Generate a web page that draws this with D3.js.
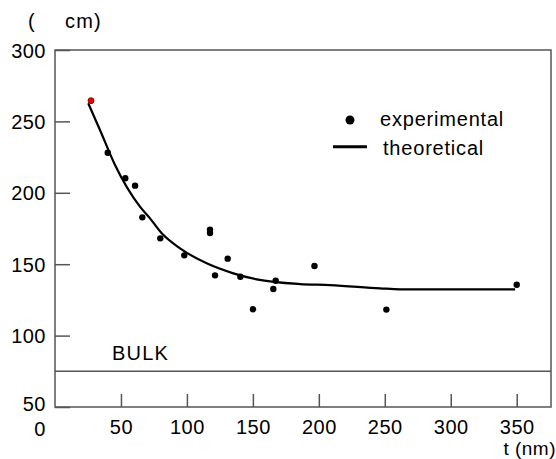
<!DOCTYPE html>
<meta charset="utf-8">
<style>
    body { margin: 0; background: #fff; }
    svg text {
        font-family: "Liberation Sans", Arial, sans-serif;
        font-size: 20px;
        letter-spacing: 0.5px;
        fill: #000;
    }
    .frame { fill: none; stroke: #555; stroke-width: 1.5px; }
    .axis path { display: none; }
    .axis line { stroke: #555; stroke-width: 1.5px; }
    .curve { fill: none; stroke: #000; stroke-width: 2.2px; }
</style>
<svg width="556" height="459"></svg>
<script src="https://d3js.org/d3.v7.min.js"></script>
<script>

    // measured points (thickness t in nm, value in cm units)
    var expT = [40, 53.3, 60.7, 66.2, 79.8, 98, 117.5, 117.5, 121.3, 130.9, 140.5, 150.1, 165.5, 167.3, 196.7, 251.2, 350];
    var expV = [228, 210.2, 205, 182.8, 168.1, 156.2, 174.2, 171.8, 142.2, 153.9, 141.2, 118.4, 132.6, 138.4, 148.7, 118.2, 135.6];
    // first point is drawn in red
    var redT = [27.3];
    var redV = [264.5];

    // theoretical curve
    var theoT = [25.2, 34.1, 45.5, 64.4, 72, 80.9, 94.8, 115, 135.2, 152.9, 185.7, 208.5, 246.4, 261.6, 348.8];
    var theoV = [262.7, 244, 219.5, 190.3, 182.1, 171.6, 161.1, 150.6, 143.6, 139.4, 136.1, 135.4, 133.1, 132.4, 132.4];

    var bulkValue = 75;

    var xTicks = [50, 100, 150, 200, 250, 300, 350];
    var yTicks = [50, 100, 150, 200, 250, 300];

    var svg = d3.select("svg");

    var x = d3.scaleLinear().domain([0, 376]).range([55, 551]),
        y = d3.scaleLinear().domain([50, 300]).range([407, 50]);

    // frame around the plot
    svg.append("rect")
        .attr("class", "frame")
        .attr("x", x(0))
        .attr("y", y(300))
        .attr("width", x(376) - x(0))
        .attr("height", y(50) - y(300));

    // axes with inward ticks
    svg.append("g")
        .attr("class", "axis")
        .attr("transform", "translate(" + x(0) + ",0)")
        .call(d3.axisLeft(y).tickValues(yTicks).tickSize(-15).tickPadding(9))
        .selectAll("text")
        .attr("dy", function(d) { return d === 50 ? "0.15em" : "0.35em"; });

    svg.append("g")
        .attr("class", "axis")
        .attr("transform", "translate(0," + y(50) + ")")
        .call(d3.axisBottom(x).tickValues(xTicks).tickSize(-13).tickPadding(13));

    svg.selectAll(".axis").attr("font-family", null).attr("font-size", null);

    // the "0" of the x axis sits left of the corner
    svg.append("text")
        .attr("x", x(0) - 15)
        .attr("y", 436)
        .attr("text-anchor", "middle")
        .text("0");

    // bulk level
    svg.append("line")
        .attr("x1", x(0)).attr("x2", x(376))
        .attr("y1", y(bulkValue)).attr("y2", y(bulkValue))
        .attr("stroke", "#555")
        .attr("stroke-width", 1.5);

    svg.append("text")
        .attr("x", 112)
        .attr("y", 360)
        .style("letter-spacing", "1.2px")
        .text("BULK");

    // theoretical line
    var line = d3.line()
        .curve(d3.curveMonotoneX)
        .x(function(d, i) { return x(theoT[i]); })
        .y(function(d, i) { return y(theoV[i]); });

    svg.append("path")
        .attr("class", "curve")
        .attr("d", line(theoT));

    // experimental points
    svg.selectAll(".dot")
        .data(expT)
        .enter().append("circle")
        .attr("class", "dot")
        .attr("cx", function(d) { return x(d); })
        .attr("cy", function(d, i) { return y(expV[i]); })
        .attr("r", 3.2)
        .attr("fill", "#000");

    svg.selectAll(".red")
        .data(redT)
        .enter().append("circle")
        .attr("class", "red")
        .attr("cx", function(d) { return x(d); })
        .attr("cy", function(d, i) { return y(redV[i]); })
        .attr("r", 3)
        .attr("fill", "#ee0000")
        .attr("stroke", "#600")
        .attr("stroke-width", 0.8);

    // legend
    svg.append("circle")
        .attr("cx", 350).attr("cy", 120)
        .attr("r", 4.5)
        .attr("fill", "#000");
    svg.append("text")
        .attr("x", 380).attr("y", 126)
        .style("letter-spacing", "0.8px")
        .text("experimental");
    svg.append("line")
        .attr("x1", 333).attr("x2", 367)
        .attr("y1", 146.7).attr("y2", 146.7)
        .attr("stroke", "#000")
        .attr("stroke-width", 3);
    svg.append("text")
        .attr("x", 383).attr("y", 155)
        .style("letter-spacing", "0.8px")
        .text("theoretical");

    // axis titles
    svg.append("text")
        .attr("x", 28).attr("y", 28)
        .text("(");
    svg.append("text")
        .attr("x", 65).attr("y", 28)
        .style("letter-spacing", "1.2px")
        .text("cm)");

    svg.append("text")
        .attr("x", 556).attr("y", 455)
        .attr("text-anchor", "end")
        .style("font-size", "19px")
        .text("t (nm)");

</script>
